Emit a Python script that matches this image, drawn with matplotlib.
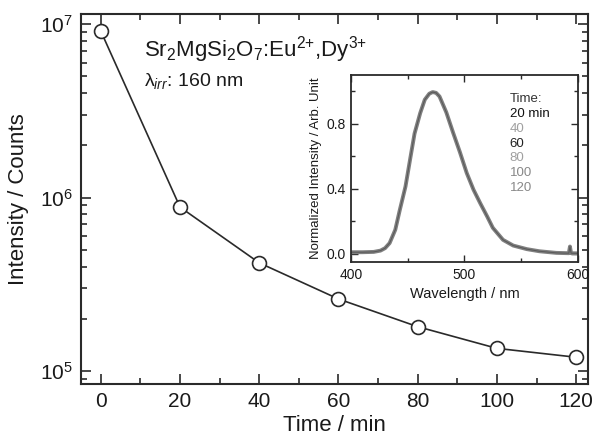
import matplotlib
matplotlib.use('Agg')
import matplotlib.pyplot as plt
from matplotlib.ticker import MultipleLocator, LogLocator, NullFormatter

plt.rcParams['font.family'] = ['Liberation Sans', 'DejaVu Sans']
plt.rcParams['mathtext.fontset'] = 'custom'
plt.rcParams['mathtext.rm'] = 'Liberation Sans'
plt.rcParams['mathtext.it'] = 'Liberation Sans:italic'
plt.rcParams['mathtext.bf'] = 'Liberation Sans:bold'

# decay of the integrated emission after irradiation
time_min = [0, 20, 40, 60, 80, 100, 120]
intensity = [9.1e6, 8.8e5, 4.2e5, 2.6e5, 1.8e5, 1.35e5, 1.2e5]

# normalized emission spectrum (all times overlap)
wavelength = [400, 410, 420, 426, 430, 434, 439, 443, 448, 452, 456, 461, 465,
              469, 472, 475, 478, 484, 490, 496, 502, 508, 514, 520, 525, 534,
              543, 555, 566, 581, 592, 593, 594, 600]
norm_int = [0.01, 0.01, 0.012, 0.02, 0.035, 0.066, 0.148, 0.27, 0.414, 0.578,
            0.74, 0.866, 0.948, 0.985, 0.995, 0.99, 0.968, 0.87, 0.745, 0.625,
            0.497, 0.394, 0.31, 0.23, 0.16, 0.086, 0.051, 0.029, 0.016, 0.006,
            0.004, 0.045, 0.004, 0.003]

time_labels = ['Time:', '20 min', '40', '60', '80', '100', '120']
time_colors = ['#333333', '#111111', '#a0a0a0', '#222222', '#a0a0a0', '#888888', '#888888']

ink = '#2a2a2a'

fig = plt.figure(figsize=(5.97, 4.37), dpi=100)
ax = fig.add_axes([0.1357, 0.1213, 0.8493, 0.8467])

ax.plot(time_min, intensity, '-', color=ink, lw=1.2, marker='o', ms=10,
        mfc='white', mec=ink, mew=1.2, zorder=3)
ax.set_yscale('log')
ax.set_xlim(-5, 123)
ax.set_ylim(10**4.925, 10**7.058)
ax.xaxis.set_major_locator(MultipleLocator(20))
ax.xaxis.set_minor_locator(MultipleLocator(10))
ax.yaxis.set_major_locator(LogLocator(base=10, numticks=10))
ax.yaxis.set_minor_locator(LogLocator(base=10, subs=range(2, 10), numticks=20))
ax.yaxis.set_minor_formatter(NullFormatter())
ax.tick_params(which='both', direction='in', top=True, right=True, colors=ink,
               labelsize=15, labelcolor='#1a1a1a', width=1.2)
ax.tick_params(which='major', length=7, pad=6)
ax.tick_params(which='minor', length=4)
for s in ax.spines.values():
    s.set_linewidth(1.5)
    s.set_color(ink)
ax.set_xlabel('Time / min', fontsize=16, color='#1a1a1a', labelpad=3)
ax.set_ylabel('Intensity / Counts', fontsize=16, color='#1a1a1a', labelpad=8)

ax.text(0.124, 0.905, r'Sr$_2$MgSi$_2$O$_7$:Eu$^{2{+}}$,Dy$^{3{+}}$',
        transform=ax.transAxes, fontsize=16, color='#1a1a1a', va='center')
ax.text(0.124, 0.818, r'λ$_{irr}$: 160 nm', transform=ax.transAxes,
        fontsize=14, color='#1a1a1a', va='center')

# inset with emission spectra
ins = fig.add_axes([0.588, 0.4005, 0.380, 0.4279])
ins.plot(wavelength, norm_int, color='#808080', lw=2.8, solid_joinstyle='round')
ins.plot(wavelength, norm_int, color='#5a5a5a', lw=0.8)
ins.set_xlim(400, 600)
ins.set_ylim(-0.05, 1.1)
ins.xaxis.set_major_locator(MultipleLocator(100))
ins.xaxis.set_minor_locator(MultipleLocator(50))
ins.yaxis.set_major_locator(MultipleLocator(0.4))
ins.yaxis.set_minor_locator(MultipleLocator(0.2))
ins.yaxis.set_major_formatter(matplotlib.ticker.FormatStrFormatter('%.1f'))
ins.tick_params(which='both', direction='in', top=True, right=True, colors=ink,
                labelsize=10, labelcolor='#1a1a1a', width=1.0)
ins.tick_params(which='major', length=5, pad=4)
ins.tick_params(which='minor', length=3)
for s in ins.spines.values():
    s.set_linewidth(1.3)
    s.set_color(ink)
ins.set_xlabel('Wavelength / nm', fontsize=10.5, color='#1a1a1a', labelpad=4)
ins.set_ylabel('Normalized Intensity / Arb. Unit', fontsize=9.5, color='#1a1a1a',
               labelpad=3)

for i, (lab, col) in enumerate(zip(time_labels, time_colors)):
    ins.text(0.70, 0.87 - i * 0.079, lab, transform=ins.transAxes,
             fontsize=9.5, color=col, va='center')

fig.savefig('out.png', dpi=100)
